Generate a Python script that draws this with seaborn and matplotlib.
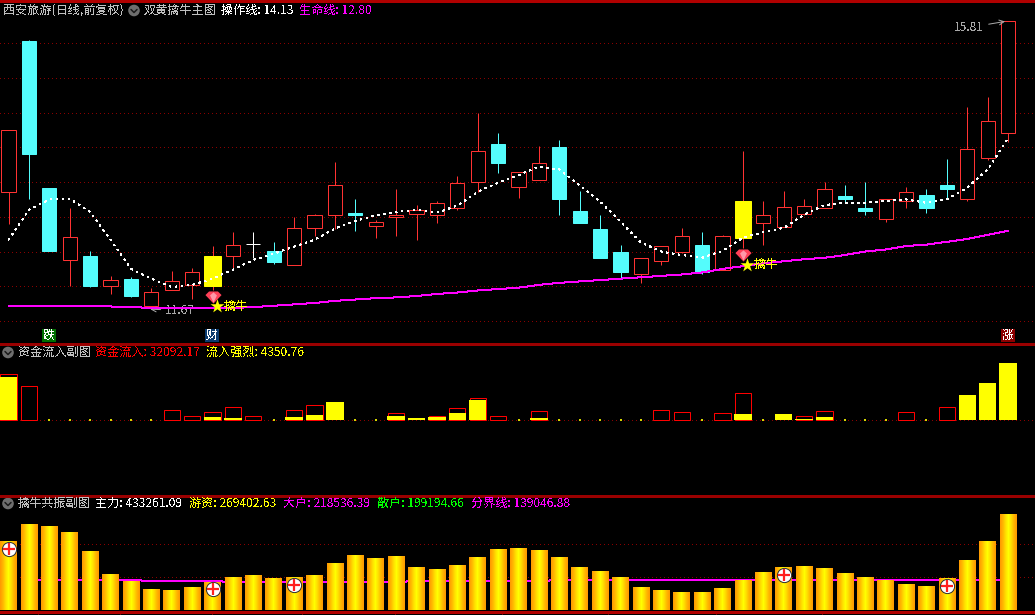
import matplotlib
matplotlib.use("Agg")
import matplotlib.pyplot as plt
import numpy as np
import seaborn as sns
from matplotlib.colors import LinearSegmentedColormap
from matplotlib.patches import Circle, Rectangle

# main panel, prices
open_px = [13.35, 15.53, 13.42, 12.38, 12.44, 12.01, 12.11, 11.71, 11.94, 12.02,
           12.01, 12.44, 12.61, 12.51, 12.31, 12.84, 13.02, 13.06, 12.87, 12.99,
           13.04, 13.02, 13.13, 13.50, 14.05, 13.43, 13.53, 14.01, 13.09, 12.83,
           12.50, 12.18, 12.37, 12.50, 12.60, 12.24, 12.70, 12.91, 12.86, 13.04,
           13.12, 13.30, 13.12, 12.97, 13.22, 13.32, 13.46, 13.26, 13.85, 14.21]
close_px = [14.25, 13.91, 12.51, 12.71, 12.01, 12.09, 11.86, 11.92, 12.07, 12.20,
            12.43, 12.60, 12.61, 12.35, 12.84, 13.03, 13.46, 13.03, 12.93, 13.03,
            13.10, 13.20, 13.49, 13.95, 13.78, 13.65, 13.78, 13.26, 12.91, 12.40,
            12.20, 12.40, 12.58, 12.73, 12.20, 12.73, 13.23, 13.03, 13.14, 13.16,
            13.40, 13.25, 13.09, 13.25, 13.35, 13.12, 13.40, 13.98, 14.38, 15.82]
high_px = [14.25, 15.55, 13.42, 13.12, 12.51, 12.15, 12.14, 11.98, 12.22, 12.27,
           12.58, 12.78, 12.78, 12.64, 12.99, 13.04, 13.79, 13.26, 12.96, 13.40,
           13.17, 13.23, 13.58, 14.50, 14.20, 13.65, 14.02, 14.11, 13.37, 13.03,
           12.60, 12.40, 12.58, 12.84, 12.78, 12.74, 13.95, 13.22, 13.37, 13.26,
           13.50, 13.46, 13.50, 13.26, 13.43, 13.40, 13.83, 14.58, 14.73, 15.82]
low_px = [12.89, 13.26, 12.51, 12.01, 11.99, 11.89, 11.85, 11.71, 11.94, 11.82,
          11.94, 12.27, 12.41, 12.32, 12.31, 12.73, 12.83, 12.80, 12.70, 12.73,
          12.67, 12.91, 13.10, 13.36, 13.63, 13.27, 13.53, 13.02, 12.91, 12.40,
          12.12, 12.05, 12.31, 12.48, 12.17, 12.24, 12.55, 12.60, 12.86, 13.02,
          13.12, 13.20, 13.02, 12.93, 13.12, 13.06, 13.26, 13.23, 13.81, 14.07]
signal_bars = [10, 36]

op_line = [12.67, 13.10, 13.25, 13.26, 13.07, 12.67, 12.25, 12.11, 11.99, 12.02,
           12.11, 12.24, 12.38, 12.47, 12.57, 12.67, 12.83, 12.94, 13.02, 13.07,
           13.10, 13.06, 13.16, 13.36, 13.49, 13.60, 13.72, 13.68, 13.45, 13.22,
           12.93, 12.63, 12.50, 12.45, 12.41, 12.51, 12.70, 12.78, 12.84, 13.03,
           13.17, 13.20, 13.20, 13.23, 13.25, 13.20, 13.25, 13.42, 13.68, 14.13]
life_line = [11.71, 11.71, 11.71, 11.71, 11.71, 11.71, 11.70, 11.69, 11.69, 11.69,
             11.69, 11.69, 11.70, 11.72, 11.74, 11.76, 11.79, 11.81, 11.83, 11.84,
             11.86, 11.89, 11.91, 11.94, 11.96, 11.98, 12.02, 12.05, 12.07, 12.09,
             12.11, 12.13, 12.15, 12.17, 12.20, 12.25, 12.29, 12.33, 12.36, 12.39,
             12.41, 12.45, 12.50, 12.53, 12.58, 12.60, 12.64, 12.68, 12.74, 12.80]
price_grid = [15.5, 15.0, 14.5, 14.0, 13.5, 13.0, 12.5, 12.0, 11.5]

gem_bars = [10, 36]
gem_price = [11.84, 12.45]
star_bars = [10.22, 36.2]
star_price = [11.71, 12.31]

# inflow panel, heights in panel units
inflow_hollow = [46, 34, 0, 0, 0, 0, 0, 0, 10, 4, 8, 13, 4, 0, 10, 15, 0, 0, 0, 7,
                 0, 4, 12, 22, 4, 0, 9, 0, 0, 0, 0, 0, 10, 8, 0, 7, 27, 0, 0, 4,
                 9, 0, 0, 0, 8, 0, 13, 0, 0, 0]
inflow_solid = [43, 0, 0, 0, 0, 0, 0, 0, 0, 0, 3, 2, 0, 0, 3, 5, 18, 0, 0, 4,
                2, 3, 7, 20, 0, 0, 2, 0, 0, 0, 0, 0, 0, 0, 0, 0, 6, 0, 6, 1,
                3, 0, 0, 0, 0, 0, 0, 25, 37, 57]

# resonance panel
main_force = [314640, 392160, 383040, 355680, 269040, 164160, 132240, 95760, 91200, 104880,
              127680, 150480, 159600, 145920, 150480, 159600, 214320, 250800, 237120, 246240,
              196080, 186960, 205200, 241680, 278160, 282720, 273600, 241680, 196080, 177840,
              150480, 104880, 91200, 82080, 82080, 100320, 136800, 173280, 196080, 200640,
              191520, 168720, 150480, 136800, 118560, 109440, 145920, 228000, 314640, 433261]
split_line = [132240, 136800, 136800, 136800, 136800, 136800, 136800, 132240, 132240, 132240,
              132240, 127680, 127680, 127680, 127680, 127680, 127680, 127680, 127680, 127680,
              132240, 132240, 132240, 132240, 132240, 132240, 132240, 136800, 136800, 136800,
              136800, 136800, 136800, 136800, 136800, 136800, 136800, 136800, 136800, 136800,
              136800, 136800, 136800, 136800, 136800, 136800, 136800, 136800, 139047, 139047]
force_grid = [150000, 300000]
plus_bars = [0, 10, 14, 38, 46]
plus_value = [278160, 95760, 114000, 159600, 109440]
month_ticks = [1.46, 5.47, 9.98, 14.4, 18.95, 24.2, 29.4, 34.7, 39.9]

W, H = 1035, 615
CJK = ["Noto Sans CJK SC", "DejaVu Sans"]
GREY = "#c0c0c0"
MAGENTA = "#ff00ff"
CANDLE_RED = "#ff3232"
CYAN = "#54fcfc"
LINE_RED = "#9a0000"
ONE_PX = 0.72

sns.set_theme(style="dark", rc={
    "figure.facecolor": "black",
    "axes.facecolor": "black",
    "text.antialiased": False,
})
plt.rcParams["font.family"] = CJK

XLIM = (-8.5 / 20.4, (W - 8.5) / 20.4)


def panel(fig, top, bottom):
    ax = fig.add_axes([0, 1 - bottom / H, 1, (bottom - top) / H])
    ax.set_xlim(*XLIM)
    for s in ax.spines.values():
        s.set_visible(False)
    return ax


def finish(ax, ylim):
    ax.set_xlim(*XLIM)
    ax.set_ylim(*ylim)
    ax.set_xlabel("")
    ax.set_ylabel("")
    ax.set_xticks([])
    ax.set_yticks([])
    ax.grid(False)


def dotted(ax, values):
    ax.hlines(values, *XLIM, colors="#8a0000", linewidth=ONE_PX,
              linestyles=(0, (1, 4)), antialiased=False, zorder=1)


def draw_candles(ax):
    for i, (o, c, h, l) in enumerate(zip(open_px, close_px, high_px, low_px)):
        top, bot = max(o, c), min(o, c)
        if i in signal_bars:
            wick, face, edge, width = CANDLE_RED, "#ffff00", "#ffff00", 0.8
        elif o == c:
            wick, face, edge, width = "white", "white", "white", 0.68
        elif c > o:
            wick, face, edge, width = CANDLE_RED, "black", CANDLE_RED, 0.7
        else:
            wick, face, edge, width = CYAN, CYAN, CYAN, 0.7
        ax.vlines(i, l, h, colors=wick, linewidth=ONE_PX, zorder=2)
        bars = ax.bar(i, top - bot, bottom=bot, width=width, facecolor=face, edgecolor=edge,
                      linewidth=ONE_PX, zorder=3)
        bars[0].set_snap(True)


def draw_main(ax):
    idx = np.arange(len(open_px))
    dotted(ax, price_grid)
    draw_candles(ax)
    sns.lineplot(x=idx, y=life_line, color=MAGENTA, linewidth=ONE_PX, antialiased=False,
                 errorbar=None, ax=ax, zorder=4)
    sns.lineplot(x=idx, y=op_line, color="white", linewidth=ONE_PX, antialiased=False,
                 linestyle=(0, (1.2, 4.5)), errorbar=None, ax=ax, zorder=5)

    gem = [(-1, 0.3), (-0.55, 0.75), (0.55, 0.75), (1, 0.3), (0, -0.75)]
    facet = [(-0.5, 0.3), (0, 0.75), (0.5, 0.3), (0, -0.75)]
    ax.scatter(gem_bars, gem_price, marker=gem, s=135, color="#ff4058", linewidth=0, zorder=6)
    ax.scatter(gem_bars, gem_price, marker=facet, s=55, color="#ff98a8", linewidth=0, zorder=7)
    ax.scatter(star_bars, star_price, marker="*", s=110, color="#ffff00", linewidth=0, zorder=7)
    for x, y in zip(star_bars, star_price):
        ax.annotate("擒牛", xy=(x, y), xytext=(7, 0), textcoords="offset pixels",
                    color="#ffff00", fontsize=8.8, va="center", family=CJK, zorder=7)

    ax.annotate("11.67", xy=(6.95, 11.67), xytext=(15, -1), textcoords="offset pixels",
                color="#a8a8a8", fontsize=8.6, va="center", ha="left",
                arrowprops=dict(arrowstyle="->", color="#a8a8a8", lw=ONE_PX, shrinkA=1, shrinkB=0))
    ax.annotate("15.81", xy=(48.85, 15.81), xytext=(-21, -6), textcoords="offset pixels",
                color="#a8a8a8", fontsize=8.6, va="center", ha="right",
                arrowprops=dict(arrowstyle="->", color="#a8a8a8", lw=ONE_PX, shrinkA=1, shrinkB=0))
    finish(ax, (11.18, 16.09))


def draw_inflow(ax):
    idx = np.arange(len(inflow_hollow))
    hollow = np.array(inflow_hollow)
    solid = np.array(inflow_solid)
    dotted(ax, [0.5])
    empty = (hollow == 0) & (solid == 0)
    sns.scatterplot(x=idx[empty], y=np.full(empty.sum(), 0.5), marker="s", s=1.0,
                    color="#d8d800", linewidth=0, ax=ax, zorder=2)
    sns.barplot(x=idx[hollow > 0], y=hollow[hollow > 0], native_scale=True, fill=False,
                color="#ff0000", linewidth=ONE_PX, width=0.8, errorbar=None, ax=ax)
    n_hollow = len(ax.patches)
    sns.barplot(x=idx[solid > 0], y=solid[solid > 0], native_scale=True, color="#ffff00",
                saturation=1, linewidth=0, width=0.86, errorbar=None, ax=ax)
    for k, p in enumerate(ax.patches):
        p.set_snap(True)
        p.set_zorder(3 if k < n_hollow else 4)
    finish(ax, (-75.3, 76.7))


def draw_force(ax):
    idx = np.arange(len(main_force))
    dotted(ax, force_grid)
    sns.lineplot(x=idx[1:], y=split_line[1:], color=MAGENTA, linewidth=ONE_PX, antialiased=False,
                 errorbar=None, ax=ax, zorder=2)
    sns.barplot(x=idx, y=main_force, native_scale=True, color="#ffa800", saturation=1,
                linewidth=0, width=0.82, errorbar=None, ax=ax, zorder=3)
    cmap = LinearSegmentedColormap.from_list(
        "gold", ["#ff9c00", "#ffb800", "#ffe000", "#ffff00", "#ffe000", "#ffb800", "#ff9c00"])
    grad = np.linspace(0, 1, 17).reshape(1, -1)
    for p in list(ax.patches):
        x0, wid = p.get_x(), p.get_width()
        ax.imshow(grad, cmap=cmap, aspect="auto", interpolation="nearest", zorder=4,
                  extent=(x0, x0 + wid, 0, p.get_height()))
    sns.scatterplot(x=plus_bars, y=plus_value, marker="o", s=105, color="white",
                    edgecolor="#303030", linewidth=ONE_PX, ax=ax, zorder=5)
    sns.scatterplot(x=plus_bars, y=plus_value, marker="+", s=70, color="#ff2020",
                    linewidth=1.6, ax=ax, zorder=6)
    finish(ax, (-5928, 523032))
    ax.set_xticks(month_ticks)
    ax.set_xticklabels([])
    ax.tick_params(axis="x", bottom=True, length=2.4, width=ONE_PX, color="#e00000", direction="out")


def header_icon(ui, x, y):
    ui.add_patch(Circle((x, y), 5.8, facecolor="#6e6e6e", edgecolor="none"))
    ui.plot([x - 3, x, x + 3], [y - 1, y + 2, y - 1], color="#1a1a1a", linewidth=1.1)


def draw_chrome(ui):
    ui.set_xlim(0, W)
    ui.set_ylim(H, 0)
    ui.axis("off")
    ui.patch.set_alpha(0)

    ui.hlines(1, 0, W, colors="#b00000", linewidth=1.6, antialiased=False)
    ui.hlines([343.5, 495.5], 0, W, colors=LINE_RED, linewidth=1.0, antialiased=False)
    ui.hlines(611.5, 0, W, colors="#b00000", linewidth=1.0, antialiased=False)

    rows = [
        (10.5, [(3, "西安旅游(日线,前复权)", GREY), (144, "双黄擒牛主图", GREY),
                (221, "操作线: 14.13", "white"), (299, "生命线: 12.80", MAGENTA)]),
        (352.5, [(18, "资金流入副图", GREY), (95, "资金流入: 32092.17", "#ff0000"),
                 (206, "流入强烈: 4350.76", "#ffff00")]),
        (503.5, [(18, "擒牛共振副图", GREY), (95, "主力: 433261.09", "white"),
                 (189, "游资: 269402.63", "#ffff00"), (283, "大户: 218536.39", MAGENTA),
                 (377, "散户: 199194.66", "#00ff00"), (471, "分界线: 139046.88", MAGENTA)]),
    ]
    for y, items in rows:
        for x, label, color in items:
            ui.text(x, y, label, color=color, fontsize=8.7, va="center", ha="left")
    header_icon(ui, 134, 10.5)
    header_icon(ui, 8, 352.5)
    header_icon(ui, 8, 503.5)

    for x, label, color in [(42, "跌", "#006e00"), (205, "财", "#0a3a6e"), (1001, "涨", "#8b0000")]:
        ui.add_patch(Rectangle((x, 329), 13.5, 13, facecolor=color, edgecolor="none"))
        ui.text(x + 6.7, 335.5, label, color="white", fontsize=8.6, va="center", ha="center")


if __name__ == "__main__":
    fig = plt.figure(figsize=(W / 100, H / 100), dpi=100)
    draw_main(panel(fig, 2, 343.3))
    draw_inflow(panel(fig, 343.3, 495.3))
    draw_force(panel(fig, 495.3, 611.3))
    ui = fig.add_axes([0, 0, 1, 1], zorder=10)
    draw_chrome(ui)
    fig.savefig("out.png", dpi=100)
